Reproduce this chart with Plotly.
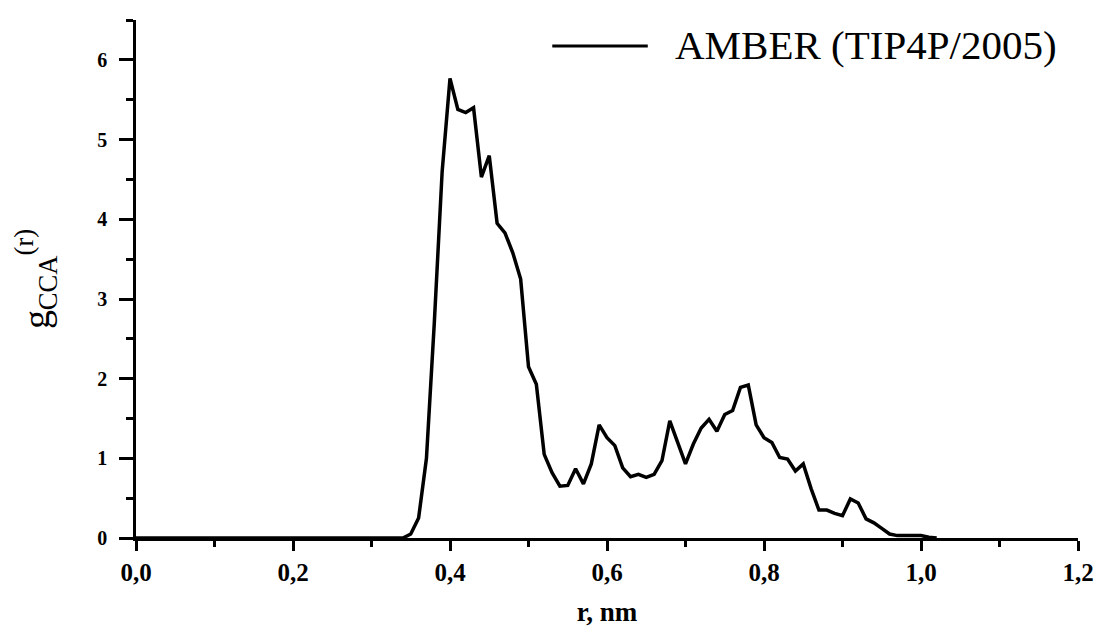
import plotly.graph_objects as go

# r (nm) and g_CCA(r)
r_nm = [0.00, 0.05, 0.10, 0.15, 0.20, 0.25, 0.30, 0.34,
        0.35, 0.36, 0.37, 0.38, 0.39, 0.40, 0.41, 0.42, 0.43, 0.44,
        0.45, 0.46, 0.47, 0.48, 0.49, 0.50, 0.51, 0.52, 0.53, 0.54,
        0.55, 0.56, 0.57, 0.58, 0.59, 0.60, 0.61, 0.62, 0.63, 0.64,
        0.65, 0.66, 0.67, 0.68, 0.69, 0.70, 0.71, 0.72, 0.73, 0.74,
        0.75, 0.76, 0.77, 0.78, 0.79, 0.80, 0.81, 0.82, 0.83, 0.84,
        0.85, 0.86, 0.87, 0.88, 0.89, 0.90, 0.91, 0.92, 0.93, 0.94,
        0.95, 0.96, 0.97, 0.98, 0.99, 1.00, 1.01, 1.02]
g_cca = [0.0, 0.0, 0.0, 0.0, 0.0, 0.0, 0.0, 0.0,
         0.05, 0.25, 1.00, 2.70, 4.60, 5.77, 5.38, 5.34, 5.40, 4.53,
         4.80, 3.95, 3.83, 3.58, 3.25, 2.15, 1.93, 1.05, 0.82, 0.65,
         0.66, 0.87, 0.68, 0.93, 1.42, 1.26, 1.16, 0.88, 0.77, 0.80,
         0.76, 0.80, 0.97, 1.47, 1.20, 0.93, 1.18, 1.38, 1.49, 1.34,
         1.55, 1.60, 1.89, 1.92, 1.42, 1.26, 1.20, 1.01, 0.99, 0.84,
         0.93, 0.62, 0.35, 0.35, 0.31, 0.28, 0.49, 0.44, 0.24, 0.19,
         0.12, 0.05, 0.03, 0.03, 0.03, 0.03, 0.01, 0.00]

series_name = "AMBER (TIP4P/2005)"
x_ticks = [0.0, 0.2, 0.4, 0.6, 0.8, 1.0, 1.2]
y_ticks = [0, 1, 2, 3, 4, 5, 6]

SERIF = "Liberation Serif, Times New Roman, serif"

fig = go.Figure()
fig.add_trace(go.Scatter(x=r_nm, y=g_cca, mode="lines", name=series_name,
                         line=dict(color="black", width=3.5), showlegend=False))

fig.update_layout(
    width=1106, height=635,
    margin=dict(l=136, r=24, t=20, b=92),
    paper_bgcolor="white", plot_bgcolor="white",
    separators=", ",
    font=dict(family=SERIF, color="black"),
)

fig.update_xaxes(
    range=[0, 1.2], tickvals=x_ticks, tickformat=".1f",
    showline=True, linecolor="black", linewidth=2.5,
    ticks="outside", ticklen=10, tickwidth=2.5, tickcolor="black",
    minor=dict(dtick=0.1, ticks="outside", ticklen=6, tickwidth=2.5, tickcolor="black"),
    showgrid=False, zeroline=False,
    tickfont=dict(family=SERIF, size=25, color="black", weight="bold"),
    title=dict(text="<b>r, nm</b>", font=dict(family=SERIF, size=27, color="black"), standoff=18),
)
fig.update_yaxes(
    range=[0, 6.502], tickvals=y_ticks,
    showline=True, linecolor="black", linewidth=2.5,
    ticks="outside", ticklen=14, tickwidth=2.5, tickcolor="black",
    minor=dict(dtick=0.5, ticks="outside", ticklen=7, tickwidth=2.5, tickcolor="black"),
    showgrid=False, zeroline=False,
    tickfont=dict(family=SERIF, size=20, color="black", weight="bold"),
    ticklabelstandoff=8,
    title=dict(text="g<sub>CCA</sub><sup>(r)</sup>", font=dict(family=SERIF, size=38, color="black"), standoff=36),
)

# legend drawn manually (long line sample as in reference)
fig.add_shape(type="line", xref="paper", yref="paper",
              x0=0.4419, x1=0.5433, y0=0.950, y1=0.950,
              line=dict(color="black", width=3))
fig.add_annotation(xref="paper", yref="paper", x=0.5698, y=0.952,
                   xanchor="left", yanchor="middle", showarrow=False,
                   text=series_name, font=dict(family=SERIF, size=41, color="black"))

fig.write_html("out.html")
